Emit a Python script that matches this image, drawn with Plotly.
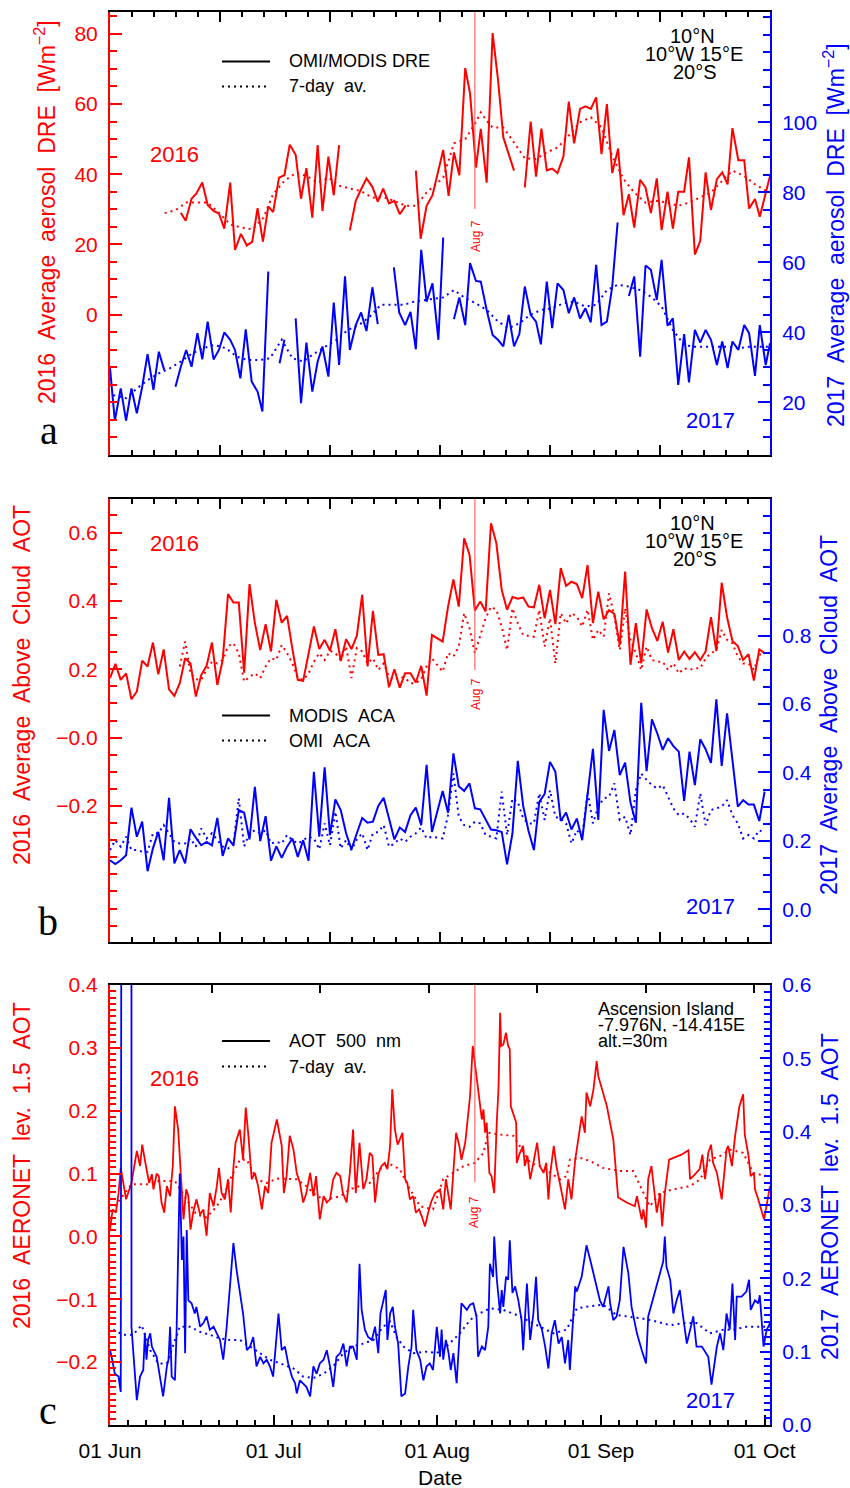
import plotly.graph_objects as go

# ------------------------------------------------------------------
# Data (x = days since 1 June; None marks a break in a series)
# ------------------------------------------------------------------

# (a) OMI/MODIS aerosol direct radiative effect [W m-2]
dre2016_day = [13.2, 14.1, 15.2, 16.1, 17.2, 18.2, 19.3, 20.3, 21.3, 22.4, 23.3, 24.4, 25.5, 26.5, 27.5,
               28.5, 29.5, 30.4, 31.5, 32.5, 33.5, 34.6, 35.6, 36.6, 37.7, 38.7, 39.6, 40.7, 41.7, 42.7,
               None,
               44.7, 45.8, 46.8, 47.8, 48.9, 49.9, 50.9, 52.0, 53.0, 54.0, 55.1,
               None,
               57.0, 57.9, 59.0, 60.1, 62.1, 63.1, 64.1, 65.1, 66.2, 67.1, 68.2, 69.1, 70.2, 71.3, 72.3,
               73.3, 74.3, 75.3,
               None,
               77.3, 78.4, 79.4, 80.4, 81.4, 82.4, 83.4, 84.5, 85.5, 86.5, 87.6, 88.6, 89.6, 90.6, 91.6,
               92.6, 93.6, 94.7, 95.7, 96.7, 97.7, 98.8, 99.8, 100.8, 101.9, 102.8, 103.9, 104.9, 105.9,
               107.0, 107.9, 109.0, 110.0, 111.0, 112.0, 113.1, 114.1, 115.1, 116.0, 117.1, 118.2, 119.1,
               120.2, 121.1, 123.0]
dre2016 = [29.0, 26.7, 33.0, 34.5, 37.6, 31.2, 29.5, 28.8, 24.5, 37.6, 18.4, 23.0, 19.7, 20.7, 30.3,
           20.8, 30.8, 29.2, 39.0, 39.7, 48.4, 45.5, 33.0, 41.7, 27.6, 48.3, 29.5, 45.0, 34.0, 48.3,
           None,
           24.0, 32.4, 35.7, 38.8, 36.4, 32.2, 35.9, 31.7, 32.4, 28.6, 31.1,
           None,
           41.0, 21.6, 31.0, 34.0, 46.9, 33.8, 46.2, 39.7, 70.2, 63.0, 41.9, 52.9, 37.6, 80.2, 67.1,
           50.5, 45.7, 41.0,
           None,
           36.2, 55.0, 39.3, 53.0, 41.1, 41.6, 40.3, 45.0, 60.7, 48.8, 58.6, 59.3, 58.6, 61.9, 45.7,
           60.0, 40.3, 47.3, 28.3, 34.3, 24.8, 38.4, 36.2, 28.9, 38.8, 24.1, 35.0, 24.5, 35.0,
           35.0, 44.8, 17.1, 21.0, 40.5, 29.8, 38.6, 40.5, 37.1, 53.1, 44.0, 44.0, 30.2,
           32.9, 27.9, 39.5]

dre2016_avg_day = [10.2, 12.3, 14.2, 16.1, 18.2, 20.3, 22.4, 24.4, 26.5, 28.6, 30.4, 32.5, 34.6, 36.6,
                   38.7, 40.8, 42.7, 44.7, 46.8, 48.9, 50.9, 53.0, 55.1, 57.0, 59.0, 62.1, 64.1, 66.2,
                   68.2, 69.1, 70.2, 71.3, 73.3, 75.3, 77.3, 79.4, 81.4, 83.4, 85.5, 87.6, 89.6, 91.6,
                   93.6, 95.7, 97.7, 99.8, 101.9, 103.9, 105.9, 107.9, 110.0, 112.0, 114.1, 116.0,
                   118.2, 120.2, 122.4]
dre2016_avg = [28.9, 29.8, 31.9, 31.9, 31.9, 29.0, 25.7, 24.8, 24.3, 27.6, 34.3, 38.1, 40.3, 39.5,
               37.6, 39.0, 36.7, 35.9, 35.2, 33.3, 33.5, 32.4, 31.0, 31.0, 34.8, 39.0, 48.8, 50.0,
               54.8, 57.6, 55.2, 53.3, 53.3, 49.0, 44.5, 44.3, 46.2, 47.6, 51.0, 54.8, 56.2, 53.3,
               45.2, 38.6, 34.8, 31.9, 32.4, 31.9, 31.0, 31.9, 33.3, 34.8, 38.1, 41.0,
               39.5, 37.1, 35.2]

dre2017_day = [0.0, 0.9, 2.0, 3.0, 4.0, 5.0, 6.0, 7.0, 8.1, 9.1, 10.1,
               None,
               12.2, 13.2, 14.2, 15.2, 16.3, 17.2, 18.2, 19.3, 20.3, 21.3, 22.4, 23.3, 24.3, 25.3, 26.4,
               27.5, 28.4, 29.5,
               None,
               31.6, 32.5,
               None,
               34.6, 35.6, 36.6, 37.7, 38.7, 39.6, 40.7, 41.7, 42.7, 43.8, 44.7, 45.8, 46.8, 47.8, 48.9,
               49.9,
               None,
               52.9, 53.9, 55.0, 56.0, 57.0, 58.0, 59.0, 60.1, 61.2, 62.1,
               None,
               64.1, 65.1, 66.2, 67.1, 68.2, 69.1, 70.2, 71.3, 72.3, 73.3, 74.3, 75.3, 76.3, 77.3, 78.4,
               79.4, 80.3, 81.4, 82.4, 83.4, 84.5, 85.5, 86.5, 87.6, 88.6, 89.6, 90.6, 91.6, 92.6, 93.6,
               94.6,
               None,
               96.7, 97.7, 98.8, 99.8, 100.8, 101.9, 102.8, 103.9, 104.9, 105.9, 107.0, 107.9, 109.0,
               110.0, 111.0, 112.0, 113.1, 114.1, 115.1, 116.0, 117.1, 118.2, 119.1, 120.2, 121.1,
               122.2, 123.0]
dre2017 = [29.8, 14.8, 24.0, 14.8, 24.0, 16.9, 24.5, 33.8, 23.6, 34.5, 29.3,
           None,
           24.5, 30.2, 35.0, 30.2, 39.8, 32.3, 43.1, 32.3, 35.0, 40.0, 37.9, 35.0, 26.9, 40.9, 26.0,
           23.1, 17.4, 57.4,
           None,
           31.2, 37.9,
           None,
           44.0, 19.8, 37.1, 23.1, 31.7, 36.0, 27.4, 48.5, 30.7, 56.0, 35.0, 42.1, 45.7, 40.4, 52.9,
           42.4,
           None,
           58.6, 45.7, 42.1, 45.9, 35.2, 63.6, 48.8, 54.0, 37.9, 67.1,
           None,
           43.8, 50.0, 42.1, 59.8, 54.7, 54.5, 46.4, 39.3, 37.9, 36.0, 45.0, 36.0, 39.6, 53.1, 45.0,
           43.1, 36.6, 54.5, 41.2, 54.0, 52.1, 45.5, 50.0, 44.0, 46.9, 42.9, 59.3, 42.1, 43.1, 53.1,
           71.4,
           None,
           50.4, 56.0, 33.1, 59.1, 57.9, 49.3, 60.7, 41.9, 44.0, 25.0, 39.5, 25.7, 40.7,
           37.1, 40.7, 37.9, 30.7, 37.4, 29.8, 37.4, 35.0, 42.1, 39.8, 27.6, 42.1,
           30.7, 36.9]

dre2017_avg_day = [0.6, 3.0, 5.0, 7.0, 9.1, 11.2, 13.2, 15.3, 17.4, 19.4, 21.6, 23.6, 25.7, 27.8, 29.8,
                   32.0, 34.0, 36.0, 38.1, 40.2, 42.2, 44.3, 46.4, 48.4, 50.5, 52.6, 54.7, 56.7, 58.8,
                   62.1, 64.1, 66.2, 68.2, 70.2, 72.3, 74.3, 76.3, 78.3, 80.3, 82.4, 84.5, 86.5, 88.6,
                   90.6, 92.6, 94.6, 96.7, 98.8, 100.8, 102.8, 104.9, 107.0, 109.0, 111.0, 113.1,
                   115.1, 117.1, 119.1, 121.1, 123.0]
dre2017_avg = [22.1, 21.2, 24.0, 26.4, 28.3, 29.8, 31.7, 34.0, 35.5, 36.4, 35.5, 33.1, 32.1, 32.1, 32.6,
               37.9, 32.6, 31.7, 34.0, 36.0, 37.9, 40.7, 42.1, 44.5, 47.9, 47.9, 47.9, 48.8, 49.3,
               50.0, 52.1, 49.8, 48.3, 46.4, 43.1, 41.2, 42.6, 45.0, 46.4, 46.9, 48.3, 48.8, 47.4,
               47.9, 52.1, 53.6, 53.1, 52.1, 50.2, 47.4, 40.7, 36.4, 35.9, 35.9, 35.9,
               35.9, 35.5, 35.9, 35.9, 35.9]

# (b) Above-cloud AOT, daily (no retrieval on 1 August)
aca_day = list(range(0, 61)) + list(range(62, 123))
aca_omi2016_day = list(range(13, 61)) + list(range(62, 123))

aca_modis2016 = [0.174, 0.216, 0.169, 0.188, 0.112, 0.135, 0.225, 0.208, 0.278, 0.185, 0.258, 0.141,
                 0.122, 0.159, 0.232, 0.217, 0.120, 0.183, 0.210, 0.278, 0.154, 0.227, 0.420, 0.395,
                 0.395, 0.190, 0.449, 0.335, 0.256, 0.332, 0.252, 0.403, 0.336, 0.356, 0.259, 0.169,
                 0.166, 0.247, 0.325, 0.259, 0.286, 0.254, 0.317, 0.224, 0.288, 0.259, 0.298, 0.418,
                 0.208, 0.371, 0.242, 0.244, 0.147, 0.200, 0.146, 0.188, 0.188, 0.161, 0.210, 0.123,
                 0.300,
                 0.281, 0.383, 0.463, 0.383, 0.583, 0.535, 0.372, 0.398, 0.369, 0.627, 0.569, 0.432,
                 0.374, 0.411, 0.406, 0.410, 0.383, 0.381, 0.447, 0.349, 0.432, 0.332, 0.496, 0.444,
                 0.456, 0.449, 0.408, 0.505, 0.335, 0.427, 0.346, 0.373, 0.362, 0.271, 0.486, 0.213,
                 0.335, 0.217, 0.375, 0.320, 0.283, 0.339, 0.249, 0.317, 0.227, 0.252, 0.230, 0.250,
                 0.227, 0.252, 0.352, 0.253, 0.453, 0.352, 0.283, 0.268, 0.227, 0.244, 0.167, 0.258,
                 0.247]
aca_omi2016 = [0.208, 0.281, 0.188, 0.171, 0.169, 0.198, 0.222, 0.217, 0.227, 0.267, 0.276, 0.247,
               0.164, 0.178, 0.188, 0.174, 0.208, 0.232, 0.227, 0.271, 0.247, 0.217, 0.174, 0.169,
               0.188, 0.222, 0.247, 0.227, 0.254, 0.247, 0.227, 0.267, 0.174, 0.262, 0.252, 0.217,
               0.232, 0.198, 0.217, 0.178, 0.169, 0.178, 0.174, 0.159, 0.159, 0.171, 0.208, 0.232,
               0.193, 0.247, 0.237, 0.266, 0.364, 0.320, 0.247, 0.296, 0.349, 0.383, 0.374, 0.325,
               0.256, 0.378, 0.334, 0.300, 0.297, 0.295, 0.374, 0.266, 0.349, 0.217, 0.364, 0.334,
               0.364, 0.354, 0.325, 0.374, 0.286, 0.315, 0.295, 0.422, 0.354, 0.256, 0.378, 0.286,
               0.247, 0.198, 0.266, 0.227, 0.222, 0.222, 0.198, 0.217, 0.188, 0.203, 0.198, 0.203,
               0.203, 0.232, 0.247, 0.256, 0.315, 0.286, 0.276, 0.237, 0.217, 0.217, 0.198, 0.242,
               0.247]
aca_modis2017 = [0.143, 0.132, 0.143, 0.158, 0.297, 0.212, 0.256, 0.111, 0.178, 0.226, 0.143, 0.326,
                 0.134, 0.173, 0.134, 0.234, 0.209, 0.187, 0.197, 0.187, 0.267, 0.156, 0.207, 0.187,
                 0.290, 0.282, 0.204, 0.358, 0.199, 0.272, 0.142, 0.184, 0.150, 0.183, 0.207, 0.153,
                 0.202, 0.142, 0.402, 0.212, 0.415, 0.217, 0.321, 0.290, 0.222, 0.175, 0.222, 0.267,
                 0.253, 0.256, 0.302, 0.326, 0.265, 0.204, 0.239, 0.226, 0.275, 0.297, 0.246, 0.422,
                 0.226,
                 0.346, 0.282, 0.456, 0.360, 0.346, 0.368, 0.295, 0.292, 0.263, 0.233, 0.231, 0.226,
                 0.131, 0.222, 0.434, 0.302, 0.229, 0.173, 0.314, 0.337, 0.431, 0.402, 0.258, 0.283,
                 0.233, 0.265, 0.202, 0.334, 0.469, 0.261, 0.583, 0.463, 0.524, 0.392, 0.429, 0.312,
                 0.253, 0.604, 0.404, 0.555, 0.514, 0.466, 0.500, 0.477, 0.461, 0.317, 0.461, 0.363,
                 0.497, 0.468, 0.428, 0.614, 0.419, 0.573, 0.431, 0.300, 0.319, 0.306, 0.306, 0.258,
                 0.344]
aca_omi2017 = [0.173, 0.202, 0.183, 0.212, 0.173, 0.173, 0.168, 0.168, 0.222, 0.222, 0.246, 0.222,
               0.197, 0.192, 0.192, 0.207, 0.183, 0.236, 0.207, 0.222, 0.202, 0.183, 0.178, 0.187,
               0.324, 0.184, 0.222, 0.231, 0.222, 0.231, 0.192, 0.197, 0.192, 0.217, 0.202, 0.192,
               0.202, 0.212, 0.207, 0.175, 0.251, 0.187, 0.285, 0.178, 0.202, 0.173, 0.204, 0.222,
               0.173, 0.222, 0.226, 0.246, 0.183, 0.192, 0.207, 0.197, 0.212, 0.222, 0.239, 0.207,
               0.212,
               0.207, 0.275, 0.397, 0.270, 0.246, 0.241, 0.256, 0.251, 0.217, 0.212, 0.207, 0.344,
               0.217, 0.324, 0.314, 0.265, 0.251, 0.251, 0.339, 0.261, 0.348, 0.270, 0.265, 0.251,
               0.192, 0.231, 0.212, 0.344, 0.251, 0.300, 0.324, 0.329, 0.368, 0.261, 0.270, 0.217,
               0.348, 0.397, 0.378, 0.363, 0.353, 0.363, 0.329, 0.295, 0.275, 0.280, 0.265, 0.241,
               0.339, 0.246, 0.290, 0.295, 0.300, 0.319, 0.275, 0.251, 0.207, 0.217, 0.207, 0.231,
               0.222]

# (c) AERONET Ascension Island, level 1.5 AOT at 500 nm (sub-daily times)
aot2016_time = [0.0, 0.5, 1.1, 1.6, 2.0, 3.0, 4.0, 5.0, 5.6, 6.0, 6.8, 7.3, 7.8, 8.1, 8.7, 9.1, 9.6,
                10.1, 10.6, 11.2, 11.7, 12.1, 12.7, 13.2, 13.7, 14.2, 14.6, 15.0, 15.5, 16.1, 16.8,
                17.4, 18.0, 18.6, 19.3, 19.9, 20.3, 20.8, 21.4, 22.0, 22.5, 23.0, 23.4, 24.2, 24.8,
                25.3, 25.8, 26.4, 27.0, 27.6, 28.3, 28.9, 29.5, 30.1, 31.1, 32.0, 32.4, 32.9, 33.5,
                34.2, 34.8, 35.4, 36.0, 36.6, 37.3, 37.9, 38.4, 39.1, 39.8, 40.4, 41.0, 41.6, 42.2,
                42.9, 43.4, 44.1, 44.7, 45.3, 45.8, 46.5, 47.2, 47.8, 48.4, 48.9, 49.4, 50.0, 50.6,
                51.2, 51.7, 52.2, 52.6, 53.1, 53.6, 54.0, 54.5, 55.0, 55.4, 55.9, 56.5, 57.0, 57.6,
                58.1, 58.7, 59.3, 59.9, 60.6,
                61.5, 62.1, 62.6, 63.5, 63.9, 64.5, 65.1, 65.5, 66.2, 67.1, 67.6, 68.6, 69.3, 69.6,
                69.9, 70.2, 70.7, 71.1, 71.6, 72.1, 72.4, 72.7, 72.9, 73.3, 73.8, 74.2, 74.5, 74.7,
                75.7, 75.8, 76.4, 77.0, 77.3, 77.8, 78.3, 78.9, 79.6, 80.1, 80.8, 81.3, 81.7, 82.1,
                82.7, 83.2, 83.9, 84.5, 84.8, 85.4, 86.0, 86.7, 87.3, 87.9, 88.5, 88.8, 89.5, 90.1,
                90.7, 91.0, 92.6, 93.8, 94.7, 96.3, 97.8, 98.2, 99.1, 99.4, 99.9, 100.3, 100.9,
                101.9, 102.5, 102.9, 103.4, 104.2, 105.0, 106.5, 107.8, 108.1, 108.7, 109.3, 109.9,
                110.4, 110.9, 111.5, 112.0, 112.4, 113.1, 114.0, 114.9, 115.2, 115.9, 116.5, 117.1,
                117.3, 118.0, 118.3, 119.0, 119.4, 120.0, 120.2, 120.8, 121.9, 123.0]
aot2016 = [0.011, 0.043, 0.038, 0.069, 0.109, 0.059, 0.085, 0.136, 0.112, 0.146, 0.107, 0.085, 0.099,
           0.075, 0.100, 0.096, 0.054, 0.038, 0.080, 0.064, 0.112, 0.207, 0.170, 0.096, 0.027, 0.075,
           0.064, 0.011, 0.038, 0.059, 0.035, 0.043, 0.001, 0.069, 0.048, 0.080, 0.109, 0.069, 0.059,
           0.091, 0.038, 0.109, 0.149, 0.170, 0.122, 0.205, 0.160, 0.091, 0.101, 0.080, 0.043, 0.080,
           0.069, 0.149, 0.186, 0.144, 0.069, 0.096, 0.160, 0.138, 0.101, 0.085, 0.054, 0.069, 0.101,
           0.064, 0.096, 0.027, 0.064, 0.054, 0.059, 0.091, 0.101, 0.096, 0.069, 0.054, 0.101, 0.170,
           0.069, 0.149, 0.075, 0.091, 0.133, 0.128, 0.054, 0.099, 0.112, 0.117, 0.107, 0.144, 0.234,
           0.170, 0.146, 0.154, 0.165, 0.091, 0.085, 0.059, 0.064, 0.038, 0.043, 0.032, 0.016, 0.038,
           0.056, 0.069,
           0.075, 0.043, 0.091, 0.043, 0.096, 0.165, 0.144, 0.122, 0.149, 0.223, 0.303, 0.229, 0.186,
           0.202, 0.165, 0.181, 0.101, 0.096, 0.069, 0.186, 0.234, 0.356, 0.303, 0.305, 0.324, 0.303,
           0.298, 0.207, 0.181, 0.117, 0.133, 0.144, 0.112, 0.128, 0.091, 0.117, 0.149, 0.112, 0.101,
           0.117, 0.059, 0.104, 0.144, 0.112, 0.080, 0.059, 0.043, 0.091, 0.059, 0.122, 0.154, 0.191,
           0.165, 0.229, 0.207, 0.234, 0.279, 0.255, 0.207, 0.154, 0.062, 0.054, 0.048, 0.064, 0.027,
           0.043, 0.014, 0.091, 0.112, 0.038, 0.069, 0.016, 0.069, 0.122, 0.125, 0.130, 0.137, 0.091,
           0.096, 0.101, 0.107, 0.130, 0.091, 0.133, 0.146, 0.117, 0.101, 0.059, 0.138, 0.144, 0.112,
           0.160, 0.191, 0.207, 0.226, 0.162, 0.128, 0.096, 0.101, 0.075, 0.059, 0.027, 0.080]

aot2016_avg_day = [0.9, 4.0, 7.0, 9.1, 12.1, 14.2, 16.1, 18.0, 19.9, 21.4, 22.4, 24.2, 25.5, 27.3,
                   29.2, 31.1, 32.9, 34.8, 36.6, 38.5, 40.4, 42.9, 44.7, 46.6, 48.4, 50.3, 52.2,
                   54.0, 55.9, 57.8, 60.2, 62.1, 64.0, 65.9, 68.0, 69.6, 70.5, 72.7, 75.2, 76.4,
                   78.3, 80.1, 82.0, 83.9, 85.1, 85.7, 87.6, 89.5, 91.9, 95.0, 97.5, 99.4, 100.6,
                   102.5, 105.0, 108.1, 110.0, 111.8, 113.7, 115.5, 118.0, 119.9, 122.4]
aot2016_avg = [0.048, 0.083, 0.083, 0.088, 0.088, 0.059, 0.035, 0.030, 0.048, 0.069, 0.091, 0.122,
               0.122, 0.091, 0.085, 0.092, 0.092, 0.091, 0.080, 0.064, 0.059, 0.064, 0.075, 0.080,
               0.085, 0.107, 0.115, 0.107, 0.075, 0.048, 0.043, 0.091, 0.101, 0.112, 0.117, 0.133,
               0.165, 0.162, 0.160, 0.144, 0.117, 0.112, 0.101, 0.091, 0.096, 0.122, 0.125, 0.120,
               0.109, 0.104, 0.104, 0.069, 0.048, 0.069, 0.075, 0.080, 0.091, 0.122, 0.128, 0.138,
               0.133, 0.101, 0.096]

aot2017_time = [0.0, 0.3, 0.9, 1.6, 2.0, 2.2, 4.0, 4.0, 5.0, 5.6, 6.2, 6.5, 6.8, 7.1, 7.5, 7.8, 8.1,
                8.7, 9.3, 9.9, 10.6, 10.9, 11.2, 11.5, 12.1, 12.4, 13.0, 13.4, 13.7, 14.0, 14.3, 14.6,
                15.2, 15.8, 16.1, 16.8, 17.4, 18.0, 18.6, 19.3, 19.9, 20.5, 21.1, 21.7, 22.4, 23.0,
                23.6, 24.2, 24.8, 25.5, 26.1, 26.7, 27.3, 28.0, 28.6, 29.2, 29.8, 30.4, 31.4, 32.0,
                32.6, 33.2, 33.9, 34.5, 34.8, 35.4, 36.0, 36.6, 37.3, 37.9, 38.5, 39.1, 39.8, 40.4,
                41.0, 41.6, 42.2, 42.9, 43.5, 44.1, 44.7, 45.3, 46.0, 46.5, 46.9, 47.5, 48.1, 48.8,
                49.4, 50.0, 50.4, 50.9, 51.4, 51.7, 52.2, 52.7, 53.1, 53.7, 54.3, 55.0, 55.6, 56.2,
                56.5, 57.1, 57.8, 58.4, 59.0, 59.6, 60.2, 60.9,
                61.5, 61.8, 62.1, 62.6, 63.1, 63.5, 64.0, 64.6, 65.2, 65.5, 66.5, 67.1, 67.7, 68.3,
                68.6, 69.3, 69.9, 70.5, 70.8, 71.4, 71.6, 72.1, 72.7, 73.0, 73.3, 73.8, 74.2, 74.5,
                75.0, 75.5, 76.1, 76.7, 77.0, 77.7, 78.3, 78.9, 79.4, 79.8, 80.5, 81.1, 81.7, 82.3,
                82.9, 83.6, 84.2, 84.8, 85.4, 85.7, 86.7, 87.0, 87.9, 88.8, 89.5, 90.4, 91.3, 91.9,
                92.9, 93.2, 93.8, 94.4, 95.0, 95.7, 96.6, 97.2, 98.2, 99.1, 99.9, 100.3, 103.1,
                103.4, 103.7, 104.4, 105.0, 105.6, 106.2, 106.8, 107.5, 108.7, 109.3, 110.3, 111.5,
                112.1, 113.1, 113.7, 114.3, 114.9, 115.5, 116.0, 116.5, 116.8, 117.7, 118.6, 119.1,
                119.4, 120.2, 120.8, 121.1, 121.8, 122.4, 123.0]
aot2017 = [0.102, 0.093, 0.070, 0.066, 0.045, 1.2, 1.2, 0.134, 0.034, 0.066, 0.075, 0.125, 0.089,
           0.116, 0.125, 0.107, 0.102, 0.093, 0.066, 0.039, 0.080, 0.089, 0.134, 0.066, 0.061, 0.125,
           0.343, 0.225, 0.257, 0.098, 0.266, 0.170, 0.166, 0.152, 0.161, 0.134, 0.139, 0.148, 0.130,
           0.134, 0.125, 0.116, 0.089, 0.130, 0.193, 0.248, 0.211, 0.184, 0.152, 0.102, 0.107, 0.120,
           0.080, 0.093, 0.084, 0.089, 0.080, 0.066, 0.152, 0.102, 0.107, 0.084, 0.066, 0.057, 0.043,
           0.061, 0.057, 0.052, 0.039, 0.080, 0.070, 0.084, 0.089, 0.102, 0.080, 0.052, 0.093, 0.098,
           0.111, 0.080, 0.107, 0.107, 0.089, 0.220, 0.157, 0.130, 0.120, 0.116, 0.134, 0.098, 0.152,
           0.166, 0.184, 0.116, 0.152, 0.161, 0.134, 0.111, 0.039, 0.043, 0.080, 0.107, 0.157, 0.102,
           0.089, 0.061, 0.080, 0.084, 0.075, 0.134,
           0.093, 0.130, 0.089, 0.116, 0.098, 0.075, 0.098, 0.057, 0.125, 0.166, 0.157, 0.164, 0.166,
           0.148, 0.093, 0.107, 0.102, 0.134, 0.220, 0.202, 0.257, 0.198, 0.152, 0.184, 0.161, 0.202,
           0.198, 0.252, 0.180, 0.189, 0.170, 0.143, 0.102, 0.193, 0.116, 0.152, 0.202, 0.143, 0.130,
           0.107, 0.077, 0.125, 0.143, 0.111, 0.120, 0.084, 0.116, 0.075, 0.189, 0.182, 0.202, 0.245,
           0.225, 0.198, 0.170, 0.161, 0.189, 0.166, 0.143, 0.148, 0.170, 0.243, 0.207, 0.161, 0.125,
           0.102, 0.084, 0.148, 0.223, 0.257, 0.216, 0.198, 0.152, 0.170, 0.184, 0.148, 0.111, 0.148,
           0.107, 0.107, 0.093, 0.055, 0.107, 0.125, 0.102, 0.152, 0.130, 0.193, 0.116, 0.175, 0.175,
           0.182, 0.198, 0.157, 0.170, 0.166, 0.177, 0.107, 0.130, 0.139]

aot2017_avg_day = [0.6, 2.5, 4.3, 5.9, 7.5, 9.0, 10.6, 13.0, 14.9, 16.8, 18.6, 20.5, 22.4, 24.2, 26.1,
                   28.0, 29.8, 31.7, 34.2, 36.0, 37.9, 39.8, 41.6, 43.5, 45.3, 47.2, 49.1, 50.9,
                   52.2, 53.4, 54.7, 56.5, 59.0, 60.9, 62.7, 65.2, 67.1, 68.3, 70.8, 73.3, 75.8,
                   77.7, 80.1, 82.6, 85.1, 87.0, 89.5, 91.9, 94.4, 96.9, 99.4, 101.9, 104.4, 106.8,
                   109.3, 111.8, 114.3, 116.2, 118.6, 121.1, 123.0]
aot2017_avg = [0.130, 0.123, 0.123, 0.136, 0.102, 0.084, 0.084, 0.134, 0.134, 0.127, 0.123, 0.118,
               0.116, 0.116, 0.107, 0.098, 0.089, 0.084, 0.077, 0.066, 0.064, 0.070, 0.080, 0.098,
               0.107, 0.111, 0.116, 0.134, 0.141, 0.120, 0.107, 0.098, 0.100, 0.098, 0.107, 0.125,
               0.143, 0.150, 0.159, 0.157, 0.150, 0.143, 0.134, 0.125, 0.130, 0.159, 0.162, 0.164,
               0.150, 0.148, 0.145, 0.141, 0.136, 0.139, 0.139, 0.125, 0.130, 0.130, 0.134, 0.134,
               0.134]

# Axis ticks and labels
date_tick_days = [0, 30.5, 61, 91.5, 122]
date_tick_text = ["01 Jun", "01 Jul", "01 Aug", "01 Sep", "01 Oct"]
aug7_day = 68

# ------------------------------------------------------------------
# Styling / layout helpers
# ------------------------------------------------------------------
RED = "#ff0000"
BLUE = "#0000ff"
FONT = "Liberation Sans, Arial, Helvetica, sans-serif"
SERIF = "Liberation Serif, Times New Roman, serif"
DOT = "2px,4px"
X_RANGE = [0, 123]

W, H = 850, 1488
ML, MR, MT, MB = 110, 80, 12, 63
PW, PH = W - ML - MR, H - MT - MB


def px(xp):
    """pixel column -> paper x"""
    return (xp - ML) / PW


def py(yp):
    """pixel row -> paper y"""
    return (H - MB - yp) / PH


DOM_A = [py(455), 1.0]
DOM_B = [py(942), py(499)]
DOM_C = [0.0, py(985)]

fig = go.Figure()


def add_line(x, y, color, xa, ya, dash="solid", width=2.0):
    fig.add_trace(go.Scatter(x=x, y=y, mode="lines", xaxis=xa, yaxis=ya,
                             line=dict(color=color, width=width, dash=dash),
                             showlegend=False, hoverinfo="skip", connectgaps=False))


# (a)
add_line(dre2016_day, dre2016, RED, "x", "y")
add_line(dre2016_avg_day, dre2016_avg, RED, "x", "y", dash=DOT)
add_line(dre2017_day, dre2017, BLUE, "x", "y2")
add_line(dre2017_avg_day, dre2017_avg, BLUE, "x", "y2", dash=DOT)
# (b)
add_line(aca_day, aca_modis2016, RED, "x2", "y3")
add_line(aca_omi2016_day, aca_omi2016, RED, "x2", "y3", dash=DOT)
add_line(aca_day, aca_modis2017, BLUE, "x2", "y4")
add_line(aca_day, aca_omi2017, BLUE, "x2", "y4", dash=DOT)
# (c)
add_line(aot2016_time, aot2016, RED, "x3", "y5", width=1.8)
add_line(aot2016_avg_day, aot2016_avg, RED, "x3", "y5", dash=DOT)
add_line(aot2017_time, aot2017, BLUE, "x3", "y6", width=1.8)
add_line(aot2017_avg_day, aot2017_avg, BLUE, "x3", "y6", dash=DOT)
# placeholder so the top tick axis of panel (c) is drawn
fig.add_trace(go.Scatter(x=[None], y=[None], xaxis="x4", yaxis="y5",
                         showlegend=False, hoverinfo="skip"))

ab_major = [0, 20.5, 41, 61.5, 82, 102.5, 123]
c_top_ticks = [19.0, 39.2, 59.4, 79.6, 99.8, 120.0]


def x_ab(anchor):
    return dict(domain=[0, 1], range=X_RANGE, anchor=anchor, showgrid=False, zeroline=False,
                showline=True, linecolor="black", linewidth=2, mirror="ticks",
                ticks="inside", ticklen=10, tickwidth=1.5, tickcolor="black",
                tickmode="array", tickvals=ab_major, showticklabels=False,
                minor=dict(tickmode="linear", tick0=0, dtick=4.1, ticks="inside",
                           ticklen=5, tickwidth=1.5, tickcolor="black"))


def y_ax(domain, rng, color, side, vals, text, mdtick, anchor, overlaying=None,
         ticklen=12, mticklen=7):
    d = dict(range=rng, side=side, anchor=anchor, showgrid=False, zeroline=False,
             showline=True, linecolor=color, linewidth=2, mirror=False, automargin=False,
             ticks="inside", ticklen=ticklen, tickwidth=1.5, tickcolor=color,
             tickmode="array", tickvals=vals, ticktext=text,
             tickfont=dict(color=color, size=21, family=FONT), ticklabelstandoff=6,
             minor=dict(tickmode="linear", tick0=0, dtick=mdtick, ticks="inside",
                        ticklen=mticklen, tickwidth=1.5, tickcolor=color))
    if overlaying:
        d["overlaying"] = overlaying
    else:
        d["domain"] = domain
    return d


MINUS = "\u2212"

fig.update_layout(
    width=W, height=H,
    margin=dict(l=ML, r=MR, t=MT, b=MB, autoexpand=False),
    paper_bgcolor="white", plot_bgcolor="white",
    font=dict(family=FONT, size=21, color="black"),
    showlegend=False,
    xaxis=x_ab("y"),
    xaxis2=x_ab("y3"),
    xaxis3=dict(domain=[0, 1], range=X_RANGE, anchor="y5", showgrid=False, zeroline=False,
                showline=True, linecolor="black", linewidth=2, mirror=True, automargin=False,
                ticks="inside", ticklen=10, tickwidth=1.5, tickcolor="black",
                tickmode="array", tickvals=date_tick_days, ticktext=date_tick_text,
                tickfont=dict(size=21, color="black", family=FONT), ticklabelstandoff=6,
                minor=dict(tickmode="linear", tick0=0, dtick=30.5 / 9, ticks="inside",
                           ticklen=5, tickwidth=1.5, tickcolor="black")),
    xaxis4=dict(range=X_RANGE, overlaying="x3", side="top", anchor="y5",
                showgrid=False, zeroline=False, showline=False, automargin=False,
                ticks="inside", ticklen=8, tickwidth=1.5, tickcolor="black",
                tickmode="array", tickvals=c_top_ticks, showticklabels=False),
    yaxis=y_ax(DOM_A, [-40, 86.2], RED, "left", [0, 20, 40, 60, 80],
               ["0", "20", "40", "60", "80"], 5, "x"),
    yaxis2=y_ax(None, [5, 131.5], BLUE, "right", [20, 40, 60, 80, 100],
                ["20", "40", "60", "80", "100"], 5, "x", overlaying="y"),
    yaxis3=y_ax(DOM_B, [-0.598, 0.698], RED, "left", [-0.2, 0, 0.2, 0.4, 0.6],
                [MINUS + "0.2", MINUS + "0.0", "0.2", "0.4", "0.6"], 0.05, "x2"),
    yaxis4=y_ax(None, [-0.096, 1.2], BLUE, "right", [0, 0.2, 0.4, 0.6, 0.8],
                ["0.0", "0.2", "0.4", "0.6", "0.8"], 0.05, "x2", overlaying="y3"),
    yaxis5=y_ax(DOM_C, [-0.3, 0.4], RED, "left", [-0.2, -0.1, 0, 0.1, 0.2, 0.3, 0.4],
                [MINUS + "0.2", MINUS + "0.1", "0.0", "0.1", "0.2", "0.3", "0.4"], 0.01, "x3",
                ticklen=12, mticklen=6),
    yaxis6=y_ax(None, [0, 0.6], BLUE, "right", [0, 0.1, 0.2, 0.3, 0.4, 0.5, 0.6],
                ["0.0", "0.1", "0.2", "0.3", "0.4", "0.5", "0.6"], 0.01, "x3", overlaying="y5",
                ticklen=10, mticklen=6),
)

SP = "\u00a0\u00a0"
ann = []


def text(t, xp, yp, color="black", size=21, angle=0, xanchor="center", family=FONT, box_h=None):
    a = dict(text=t, x=px(xp), y=py(yp), xref="paper", yref="paper",
             xanchor=xanchor, yanchor="middle", textangle=angle, showarrow=False,
             font=dict(color=color, size=size, family=family))
    if box_h:
        a["height"] = box_h
        a["borderpad"] = 0
    ann.append(a)


# axis titles
text(SP.join(["2016", "Average", "aerosol", "DRE", "[Wm<sup>" + MINUS + "2</sup>]"]), 45, 212, RED, 23, -90)
text(SP.join(["2017", "Average", "aerosol", "DRE", "[Wm<sup>" + MINUS + "2</sup>]"]), 834, 235, BLUE, 23, -90)
text(SP.join(["2016", "Average", "Above", "Cloud", "AOT"]), 22, 685, RED, 23, -90)
text(SP.join(["2017", "Average", "Above", "Cloud", "AOT"]), 829, 715, BLUE, 23, -90)
text(SP.join(["2016", "AERONET", "lev.", "1.5", "AOT"]), 22, 1166, RED, 23, -90)
text(SP.join(["2017", "AERONET", "lev.", "1.5", "AOT"]), 830, 1197, BLUE, 23, -90)
text("Date", 440, 1477, "black", 21)

# panel letters
text("a", 49, 430, "black", 40, family=SERIF)
text("b", 48, 922, "black", 40, family=SERIF)
text("c", 48, 1410, "black", 40, family=SERIF)

# year labels
for yp in (154, 543, 1078):
    text("2016", 174, yp, RED, 22)
for yp in (420, 907, 1400):
    text("2017", 710, yp, BLUE, 22)

# region description
for base in (36, 522):
    text("10\u00b0N", 692, base, "black", 20, box_h=17)
    text("10\u00b0W 15\u00b0E", 694, base + 18, "black", 20, box_h=17)
    text("20\u00b0S", 695, base + 36, "black", 20, box_h=17)

text("Ascension Island", 597, 1008, "black", 18, xanchor="left", box_h=15)
text("-7.976N, -14.415E", 597, 1024.5, "black", 18, xanchor="left", box_h=15)
text("alt.=30m", 597, 1040.5, "black", 18, xanchor="left", box_h=15)

# Aug 7 markers
text("Aug 7", 476, 236, RED, 12, -90)
text("Aug 7", 476, 694, RED, 12, -90)
text("Aug 7", 474, 1212, RED, 12, -90)

# line-style keys
shapes = []
keys = [(61.5, "OMI/MODIS" + "\u00a0" + "DRE", "solid"), (86.5, "7-day" + SP + "av.", DOT),
        (715.5, "MODIS" + SP + "ACA", "solid"), (740.5, "OMI" + SP + "ACA", DOT),
        (1041, "AOT" + SP + "500" + SP + "nm", "solid"), (1066.5, "7-day" + SP + "av.", DOT)]
for yp, label, dash in keys:
    shapes.append(dict(type="line", xref="paper", yref="paper", x0=px(222), x1=px(270),
                       y0=py(yp), y1=py(yp), line=dict(color="black", width=2, dash=dash)))
    text(label, 287, yp, "black", 18, xanchor="left")

# Aug 7 vertical lines
for xr, yr, y0 in (("x", "y domain", 0.555), ("x2", "y3 domain", 0.614), ("x3", "y5 domain", 0.552)):
    shapes.append(dict(type="line", xref=xr, yref=yr, x0=aug7_day, x1=aug7_day, y0=y0, y1=1,
                       line=dict(color="#ff4a4a", width=1)))

fig.update_layout(annotations=ann, shapes=shapes)
fig.write_html("out.html")
